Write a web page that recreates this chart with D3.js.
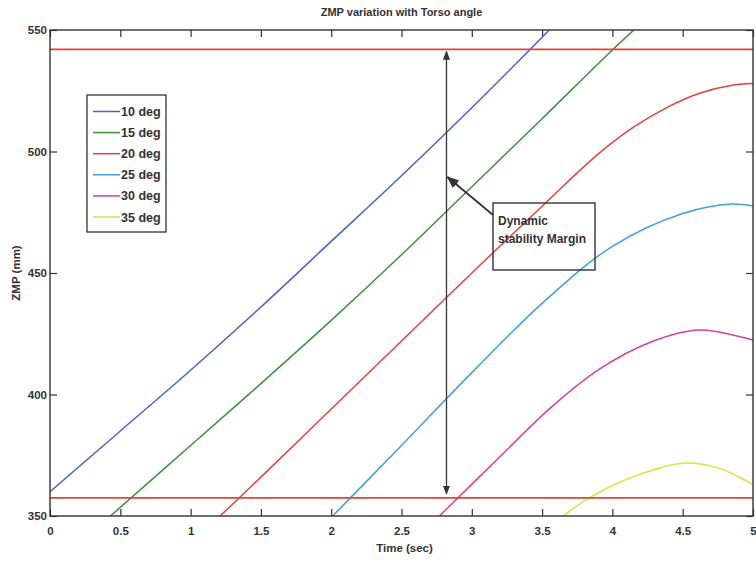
<!DOCTYPE html>
<html>
<head>
<meta charset="utf-8">
<script src="https://cdn.jsdelivr.net/npm/d3@7"></script>
<style>
  body { margin: 0; background: #fff; }
  text { font-family: "Liberation Sans Narrow", "Liberation Sans", Arial, sans-serif; font-weight: bold; fill: #333; }
</style>
</head>
<body>
<script>
// ---------------- data ----------------
var seriesNames = ["10 deg", "15 deg", "20 deg", "25 deg", "30 deg", "35 deg"];
var seriesColors = ["#4a63c8", "#3e8f3e", "#e8413c", "#3ea2dc", "#d8409c", "#d2e63a"];

// [time (sec), ZMP (mm)]
var zmp10 = [[0,360],[0.5,385],[1,410],[1.5,436],[2,463],[2.5,490],[3,518],[3.5,547],[3.6,553]];
var zmp15 = [[0.43,350],[1,379],[1.5,404.5],[2,430.5],[2.5,457.5],[3,485.5],[3.5,513.5],[4,541.8],[4.2,552.5]];
var zmp20 = [[1.21,350],[1.5,366],[2,394],[2.5,422],[3,450],[3.5,477.5],[3.9,499],[4.15,510],[4.4,518.5],[4.62,524],[4.86,527.4],[5,528]];
var zmp25 = [[2.01,350],[2.5,379],[3,409],[3.5,437.5],[4,461],[4.5,474.5],[4.85,478.4],[5,477.6]];
var zmp30 = [[2.77,350],[3.2,374.4],[3.56,394.5],[3.91,410.5],[4.27,421.5],[4.62,426.5],[5,422.4]];
var zmp35 = [[3.65,350],[3.85,358],[4.15,366.2],[4.5,371.7],[4.75,369.8],[5,363]];
var allSeries = [zmp10, zmp15, zmp20, zmp25, zmp30, zmp35];

var marginLimits = [357.5, 542];   // red stability limits
var arrowTime = 2.82;
var xTicks = [0, 0.5, 1, 1.5, 2, 2.5, 3, 3.5, 4, 4.5, 5];
var yTicks = [350, 400, 450, 500, 550];

// ---------------- layout ----------------
var W = 756, H = 561;
var margin = { top: 30, right: 3, bottom: 45, left: 50 },
    width = W - margin.left - margin.right,
    height = H - margin.top - margin.bottom;

var svg = d3.select("body").append("svg")
    .attr("width", W)
    .attr("height", H);

var g = svg.append("g")
    .attr("transform", "translate(" + margin.left + "," + margin.top + ")");

var x = d3.scaleLinear().domain([0, 5]).range([0, width]);
var y = d3.scaleLinear().domain([350, 550]).range([height, 0]);

g.append("clipPath").attr("id", "clip")
  .append("rect").attr("width", width).attr("height", height);

// ---------------- axes (MATLAB style, ticks inside, all 4 sides) ----------------
var tk = 7;
g.append("g")
    .attr("transform", "translate(0," + height + ")")
    .call(d3.axisBottom(x).tickValues(xTicks).tickSize(-tk).tickPadding(tk + 4).tickFormat(d3.format("")))
    .call(function(a) { a.select(".domain").remove(); });
g.append("g")
    .call(d3.axisTop(x).tickValues(xTicks).tickSize(-tk).tickFormat(""))
    .call(function(a) { a.select(".domain").remove(); });
g.append("g")
    .call(d3.axisLeft(y).tickValues(yTicks).tickSize(-tk).tickPadding(3))
    .call(function(a) { a.select(".domain").remove(); });
g.append("g")
    .attr("transform", "translate(" + width + ",0)")
    .call(d3.axisRight(y).tickValues(yTicks).tickSize(-tk).tickFormat(""))
    .call(function(a) { a.select(".domain").remove(); });

g.selectAll(".tick line").attr("stroke", "#333").attr("stroke-width", 1.2);
g.selectAll(".tick text").attr("font-size", 11.5).attr("fill", "#333")
    .attr("font-family", "'Liberation Sans Narrow','Liberation Sans',sans-serif").attr("font-weight", "bold");

// ---------------- curves ----------------
var line = d3.line()
    .x(function(d) { return x(d[0]); })
    .y(function(d) { return y(d[1]); })
    .curve(d3.curveCatmullRom.alpha(0.5));

var plot = g.append("g").attr("clip-path", "url(#clip)");

plot.selectAll("path.series")
    .data(allSeries)
    .enter().append("path")
    .attr("class", "series")
    .attr("d", line)
    .attr("fill", "none")
    .attr("stroke", function(d, i) { return seriesColors[i]; })
    .attr("stroke-width", 1.5);

// stability limits
plot.selectAll("line.limit")
    .data(marginLimits)
    .enter().append("line")
    .attr("class", "limit")
    .attr("x1", 0).attr("x2", width)
    .attr("y1", function(d) { return y(d); })
    .attr("y2", function(d) { return y(d); })
    .attr("stroke", "#e8413c")
    .attr("stroke-width", 1.8);

// plot frame
g.append("rect")
    .attr("width", width).attr("height", height)
    .attr("fill", "none").attr("stroke", "#333").attr("stroke-width", 1.4);

// ---------------- double arrow + annotation ----------------
var defs = svg.append("defs");
defs.append("marker").attr("id", "head")
    .attr("viewBox", "0 0 10 10").attr("refX", 9).attr("refY", 5)
    .attr("markerWidth", 7).attr("markerHeight", 7).attr("orient", "auto-start-reverse")
    .append("path").attr("d", "M0,1 L10,5 L0,9 Z").attr("fill", "#333");

var ax = x(arrowTime);
g.append("line")
    .attr("x1", ax).attr("x2", ax)
    .attr("y1", y(marginLimits[1]) + 2).attr("y2", y(marginLimits[0]) - 4)
    .attr("stroke", "#333").attr("stroke-width", 1.3)
    .attr("marker-start", "url(#head)").attr("marker-end", "url(#head)");

var boxX = 443, boxY = 173, boxW = 102, boxH = 67;
g.append("line")
    .attr("x1", boxX).attr("y1", boxY + 12)
    .attr("x2", ax + 1).attr("y2", 147)
    .attr("stroke", "#333").attr("stroke-width", 1.8)
    .attr("marker-end", "url(#head)");

g.append("rect")
    .attr("x", boxX).attr("y", boxY).attr("width", boxW).attr("height", boxH)
    .attr("fill", "none").attr("stroke", "#333").attr("stroke-width", 1.4);
g.append("text").attr("x", boxX + 5).attr("y", boxY + 22).attr("font-size", 12).text("Dynamic");
g.append("text").attr("x", boxX + 5).attr("y", boxY + 40).attr("font-size", 12).text("stability Margin");

// ---------------- legend ----------------
var lg = g.append("g").attr("transform", "translate(37,65)");
lg.append("rect")
    .attr("width", 79).attr("height", 137)
    .attr("fill", "#fff").attr("stroke", "#333").attr("stroke-width", 1.3);
var item = lg.selectAll("g.item")
    .data(seriesNames)
    .enter().append("g")
    .attr("class", "item")
    .attr("transform", function(d, i) { return "translate(0," + (16.5 + i * 21.1) + ")"; });
item.append("line")
    .attr("x1", 6).attr("x2", 33)
    .attr("stroke", function(d, i) { return seriesColors[i]; })
    .attr("stroke-width", 1.5);
item.append("text")
    .attr("x", 34).attr("dy", "0.36em")
    .attr("font-size", 12.5)
    .text(function(d) { return d; });

// ---------------- titles ----------------
svg.append("text")
    .attr("x", margin.left + width / 2).attr("y", 16)
    .attr("text-anchor", "middle").attr("font-size", 11)
    .text("ZMP variation with Torso angle");
svg.append("text")
    .attr("x", margin.left + width / 2 + 3).attr("y", 552)
    .attr("text-anchor", "middle").attr("font-size", 11.5)
    .text("Time (sec)");
svg.append("text")
    .attr("transform", "translate(20," + (margin.top + height / 2) + ") rotate(-90)")
    .attr("text-anchor", "middle").attr("font-size", 11.5)
    .text("ZMP (mm)");
</script>
</body>
</html>
